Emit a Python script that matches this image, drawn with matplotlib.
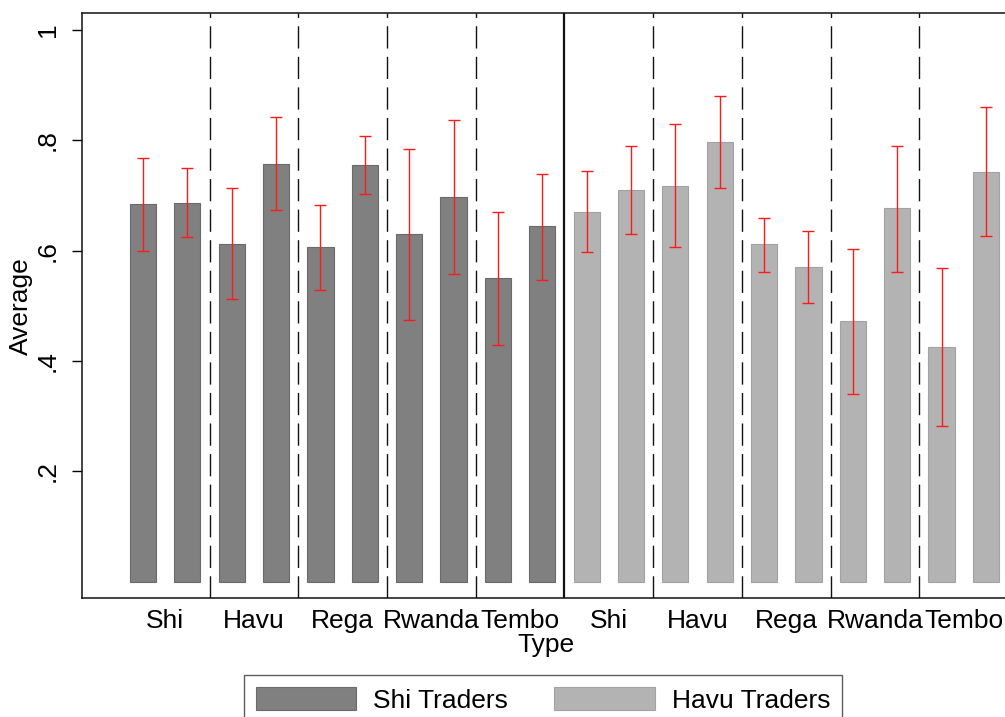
import matplotlib.pyplot as plt
import numpy as np
from matplotlib.patches import Patch

plt.rcParams['font.family'] = ['Liberation Sans', 'DejaVu Sans']

# data
groups = ['Shi', 'Havu', 'Rega', 'Rwanda', 'Tembo']

shi_mean = [0.685, 0.687, 0.613, 0.758, 0.606, 0.756, 0.630, 0.698, 0.551, 0.644]
shi_hi = [0.768, 0.750, 0.713, 0.843, 0.682, 0.808, 0.785, 0.837, 0.671, 0.740]
shi_lo = [0.599, 0.624, 0.512, 0.673, 0.529, 0.703, 0.474, 0.557, 0.429, 0.547]

havu_mean = [0.671, 0.710, 0.717, 0.797, 0.612, 0.571, 0.472, 0.677, 0.425, 0.743]
havu_hi = [0.745, 0.789, 0.830, 0.880, 0.659, 0.636, 0.603, 0.790, 0.568, 0.861]
havu_lo = [0.597, 0.630, 0.607, 0.713, 0.562, 0.505, 0.341, 0.562, 0.282, 0.627]

yticks = [0.2, 0.4, 0.6, 0.8, 1.0]
ytick_labels = ['.2', '.4', '.6', '.8', '1']

shi_color = '#808080'
havu_color = '#b3b3b3'
fs = 19

fig = plt.figure(figsize=(10.05, 7.17), dpi=100)
ax = fig.add_axes([82 / 1005, 119 / 717, 927 / 1005, 584.7 / 717])

n = len(shi_mean)
x_shi = np.arange(n)
x_havu = np.arange(n, 2 * n)

for xs, m, lo, hi, c, ec in [(x_shi, shi_mean, shi_lo, shi_hi, shi_color, '#6a6a6a'),
                             (x_havu, havu_mean, havu_lo, havu_hi, havu_color, '#a2a2a2')]:
    m = np.array(m)
    ax.bar(xs, m, width=0.59, color=c, edgecolor=ec, linewidth=0.8, zorder=2)
    yerr = [m - np.array(lo), np.array(hi) - m]
    ax.errorbar(xs, m, yerr=yerr, fmt='none', ecolor='#ff1a1a', elinewidth=1.0,
                capsize=4.5, capthick=1.0, zorder=3)

# group dividers
for b in np.arange(1.5, 2 * n - 1, 2):
    if b == n - 0.5:
        ax.axvline(b, color='#111111', lw=1.6, zorder=1)
    else:
        ax.axvline(b, color='#111111', lw=1.0, linestyle=(0, (16, 6)), zorder=1)

centers = np.arange(0.5, 2 * n, 2)
ax.set_xticks(centers)
ax.set_xticklabels(groups * 2, fontsize=fs)
ax.tick_params(axis='x', length=0, pad=8)

ax.set_yticks(yticks)
ax.set_yticklabels(ytick_labels, fontsize=fs, rotation=90, va='center')
ax.tick_params(axis='y', length=7, width=1, pad=9)

ax.set_xlim(-1.375, 19.52)
ax.set_ylim(-0.0297, 1.0305)

ax.set_xlabel('Type', fontsize=fs, labelpad=0)
ax.set_ylabel('Average', fontsize=fs, labelpad=2)

for s in ax.spines.values():
    s.set_linewidth(1.1)
    s.set_color('#111111')

handles = [Patch(facecolor=shi_color, edgecolor='#6a6a6a', linewidth=0.8),
           Patch(facecolor=havu_color, edgecolor='#a2a2a2', linewidth=0.8)]
leg = fig.legend(handles, ['Shi Traders', 'Havu Traders'], loc='upper left',
                 bbox_to_anchor=(244 / 1005, 1 - 675 / 717), ncol=2, fontsize=fs,
                 frameon=True, fancybox=False, edgecolor='#333333',
                 handlelength=3.8, handleheight=1.0, handletextpad=0.65,
                 columnspacing=1.75, borderpad=0.45, borderaxespad=0)
leg.get_frame().set_linewidth(1.0)

fig.savefig('out.png', dpi=100)
